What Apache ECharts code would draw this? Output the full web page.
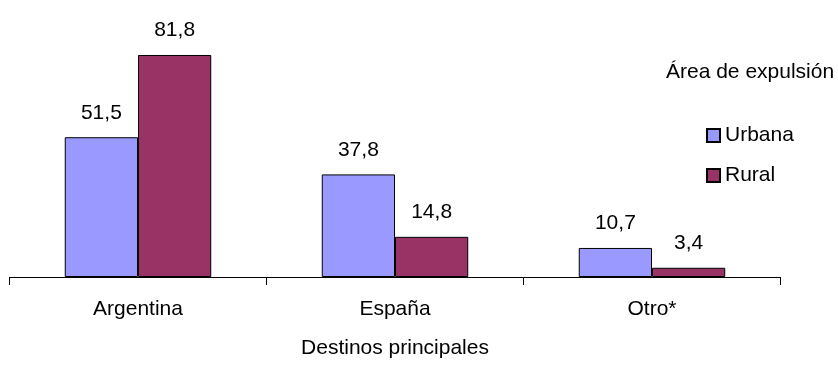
<!DOCTYPE html>
<html>
<head>
<meta charset="utf-8">
<script src="https://cdn.jsdelivr.net/npm/echarts@6/dist/echarts.min.js"></script>
<style>
html,body{margin:0;padding:0;background:#fff;}
#chart{width:838px;height:372px;}
</style>
</head>
<body>
<div id="chart"></div>
<script>
var categories = ['Argentina', 'España', 'Otro*'];
var urbana = [51.5, 37.8, 10.7];
var rural = [81.8, 14.8, 3.4];
var seriesNames = ['Urbana', 'Rural'];
var legendTitle = 'Área de expulsión';
var xAxisName = 'Destinos principales';

var FONT = '"Liberation Sans", Arial, sans-serif';
var FS = 21;

function fmt(v) { return String(v).replace('.', ','); }

var chart = echarts.init(document.getElementById('chart'), null, {renderer: 'canvas'});
chart.setOption({
  animation: false,
  backgroundColor: '#ffffff',
  textStyle: {fontFamily: FONT},
  title: {
    text: legendTitle,
    left: 666,
    top: 62,
    padding: 0,
    textStyle: {fontFamily: FONT, fontSize: FS, fontWeight: 'normal', color: '#000'}
  },
  legend: {
    orient: 'vertical',
    left: 706,
    top: 125,
    padding: 0,
    itemWidth: 13,
    itemHeight: 13,
    itemGap: 19,
    icon: 'rect',
    data: seriesNames,
    textStyle: {fontFamily: FONT, fontSize: FS, color: '#000'}
  },
  grid: {left: 9.5, right: 57.5, top: 5.6, bottom: 95, containLabel: false},
  xAxis: {
    type: 'category',
    data: categories,
    boundaryGap: true,
    name: xAxisName,
    nameLocation: 'middle',
    nameGap: 61,
    nameTextStyle: {fontFamily: FONT, fontSize: FS, color: '#000'},
    axisLine: {show: true, lineStyle: {color: '#000', width: 1}},
    axisTick: {show: true, interval: 0, alignWithLabel: false, length: 8, lineStyle: {color: '#000', width: 1}},
    axisLabel: {margin: 22, fontFamily: FONT, fontSize: FS, color: '#000'}
  },
  yAxis: {
    type: 'value',
    min: 0,
    max: 100,
    show: false,
    splitLine: {show: false}
  },
  series: [
    {
      name: seriesNames[0],
      type: 'bar',
      data: urbana,
      barGap: '0%',
      barCategoryGap: '43%',
      itemStyle: {color: '#9999FF', borderColor: '#000', borderWidth: 1},
      label: {show: true, position: 'top', distance: 14, fontFamily: FONT, fontSize: FS, color: '#000',
        formatter: function (p) { return fmt(p.value); }}
    },
    {
      name: seriesNames[1],
      type: 'bar',
      data: rural,
      barGap: '0%',
      barCategoryGap: '43%',
      itemStyle: {color: '#993366', borderColor: '#000', borderWidth: 1},
      label: {show: true, position: 'top', distance: 14, fontFamily: FONT, fontSize: FS, color: '#000',
        formatter: function (p) { return fmt(p.value); }}
    }
  ]
});
</script>
</body>
</html>
